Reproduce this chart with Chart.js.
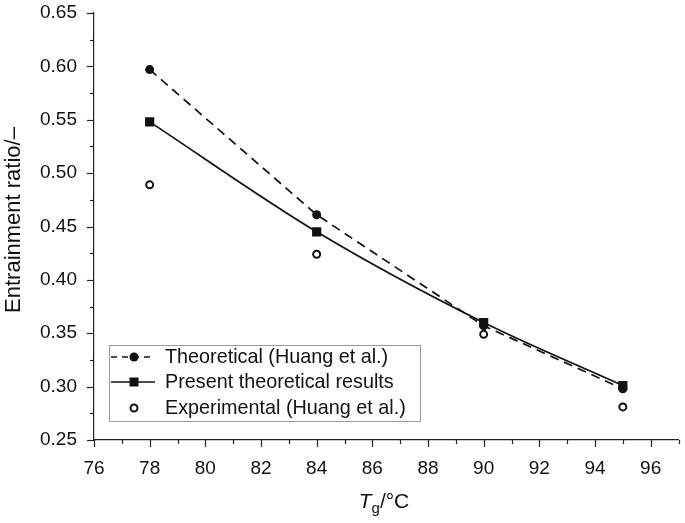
<!DOCTYPE html>
<html>
<head>
<meta charset="utf-8">
<script src="https://cdn.jsdelivr.net/npm/chart.js@4/dist/chart.umd.min.js"></script>
<style>
  html, body { margin: 0; padding: 0; background: #fff; }
  #wrap { width: 685px; height: 523px; position: relative; }
</style>
</head>
<body>
<div id="wrap"><canvas id="chartContainer"></canvas></div>
<script>
// values
var tempG = [78, 84, 90, 95];
var theoryHuang = [0.597, 0.461, 0.357, 0.298];
var presentTheory = [0.548, 0.445, 0.360, 0.301];
var experimental = [0.489, 0.424, 0.349, 0.281];

var xTicks = [76, 78, 80, 82, 84, 86, 88, 90, 92, 94, 96];
var yTicks = [0.25, 0.30, 0.35, 0.40, 0.45, 0.50, 0.55, 0.60, 0.65];

var seriesNames = ['Theoretical (Huang et al.)', 'Present theoretical results', 'Experimental (Huang et al.)'];

var FONT = '"Liberation Sans", Arial, sans-serif';

function toPoints(xs, ys){
    var pts = [];
    for(var i=0; i<xs.length; i++){
        pts.push({x: xs[i], y: ys[i]});
    }
    return pts;
}

function noPad(scale){
    scale.paddingTop = 0;
    scale.paddingBottom = 0;
    scale.paddingLeft = 0;
    scale.paddingRight = 0;
}

// minor/major ticks, axis titles, legend box
var extras = {
    id: 'extras',
    afterDraw: function(chart){
        var ctx = chart.ctx;
        var xs = chart.scales.x, ys = chart.scales.y;
        var area = chart.chartArea;
        ctx.save();
        ctx.strokeStyle = '#222';
        ctx.lineWidth = 1.2;
        // x ticks (down)
        for(var v=76; v<=97; v++){
            var px = Math.round(xs.getPixelForValue(v)) + 0.5;
            var len = (v % 2 == 0) ? 7 : 4;
            ctx.beginPath();
            ctx.moveTo(px, area.bottom);
            ctx.lineTo(px, area.bottom + len);
            ctx.stroke();
        }
        // y ticks (left)
        for(var k=0; k<=16; k++){
            var val = 0.25 + k*0.025;
            var py = Math.round(ys.getPixelForValue(val)) + 0.5;
            var l = (k % 2 == 0) ? 7 : 4;
            ctx.beginPath();
            ctx.moveTo(area.left, py);
            ctx.lineTo(area.left - l, py);
            ctx.stroke();
        }

        // axis titles
        ctx.fillStyle = '#111';
        ctx.save();
        ctx.translate(14, 220);
        ctx.rotate(-Math.PI/2);
        ctx.font = '22px ' + FONT;
        ctx.textAlign = 'center';
        ctx.textBaseline = 'middle';
        ctx.fillText('Entrainment ratio/\u2013', 0, 0);
        ctx.restore();

        ctx.textBaseline = 'alphabetic';
        ctx.textAlign = 'left';
        var cx = 384;
        var base = 508;
        ctx.font = 'italic 21px ' + FONT;
        var wT = ctx.measureText('T').width;
        ctx.font = '15px ' + FONT;
        var wg = ctx.measureText('g').width;
        ctx.font = '21px ' + FONT;
        var wRest = ctx.measureText('/\u00B0C').width;
        var x0 = cx - (wT + wg + wRest)/2;
        ctx.font = 'italic 21px ' + FONT;
        ctx.fillText('T', x0, base);
        ctx.font = '15px ' + FONT;
        ctx.fillText('g', x0 + wT, base + 5);
        ctx.font = '21px ' + FONT;
        ctx.fillText('/\u00B0C', x0 + wT + wg, base);

        // legend
        var lx = 109, ly = 345, lw = 311, lh = 76;
        ctx.strokeStyle = '#9a9a9a';
        ctx.lineWidth = 1;
        ctx.fillStyle = '#fff';
        ctx.fillRect(lx, ly, lw, lh);
        ctx.strokeRect(lx + 0.5, ly + 0.5, lw, lh);
        var rows = [357, 382, 408];
        ctx.font = '19.8px ' + FONT;
        ctx.textBaseline = 'middle';
        for(var r=0; r<3; r++){
            var yy = rows[r];
            ctx.strokeStyle = '#111';
            ctx.fillStyle = '#111';
            ctx.lineWidth = 1.6;
            if(r == 0){
                ctx.setLineDash([6, 5]);
                ctx.beginPath(); ctx.moveTo(111, yy); ctx.lineTo(155, yy); ctx.stroke();
                ctx.setLineDash([]);
                ctx.beginPath(); ctx.arc(134, yy, 4.5, 0, Math.PI*2); ctx.fill();
            } else if(r == 1){
                ctx.beginPath(); ctx.moveTo(111, yy); ctx.lineTo(155, yy); ctx.stroke();
                ctx.fillRect(129.5, yy - 4.5, 9, 9);
            } else {
                ctx.fillStyle = '#fff';
                ctx.lineWidth = 2;
                ctx.beginPath(); ctx.arc(134, yy, 3.5, 0, Math.PI*2); ctx.fill(); ctx.stroke();
            }
            ctx.fillStyle = '#111';
            ctx.fillText(seriesNames[r], 165, yy + 1);
        }
        ctx.restore();
    }
};

var myChart = new Chart('chartContainer', {
    type: 'scatter',
    data: {
        datasets: [{
            label: seriesNames[0],
            data: toPoints(tempG, theoryHuang),
            showLine: true,
            borderColor: '#111',
            borderWidth: 1.7,
            borderDash: [9, 6],
            pointStyle: 'circle',
            pointRadius: 4.5,
            pointBackgroundColor: '#111',
            pointBorderWidth: 0
        }, {
            label: seriesNames[1],
            data: toPoints(tempG, presentTheory),
            showLine: true,
            borderColor: '#111',
            borderWidth: 1.7,
            cubicInterpolationMode: 'monotone',
            pointStyle: 'rect',
            pointRadius: 6.5,
            pointBackgroundColor: '#111',
            pointBorderWidth: 0
        }, {
            label: seriesNames[2],
            data: toPoints(tempG, experimental),
            showLine: false,
            pointStyle: 'circle',
            pointRadius: 3.5,
            pointBackgroundColor: '#fff',
            pointBorderColor: '#111',
            pointBorderWidth: 2
        }]
    },
    options: {
        responsive: true,
        maintainAspectRatio: false,
        animation: false,
        layout: { padding: { top: 13, right: 3, left: 0, bottom: 0 } },
        plugins: {
            legend: { display: false },
            tooltip: { enabled: false }
        },
        scales: {
            x: {
                type: 'linear',
                min: 76,
                max: 97,
                afterBuildTicks: function(scale){
                    scale.ticks = xTicks.map(function(v){ return {value: v}; });
                },
                afterFit: function(scale){ scale.height = 83; noPad(scale); },
                grid: { display: false, drawTicks: false },
                border: { display: true, color: '#222', width: 1.2 },
                ticks: {
                    padding: 17,
                    color: '#111',
                    font: { family: FONT, size: 19 },
                    callback: function(v){ return String(v); }
                }
            },
            y: {
                type: 'linear',
                min: 0.25,
                max: 0.65,
                afterBuildTicks: function(scale){
                    scale.ticks = yTicks.map(function(v){ return {value: v}; });
                },
                afterFit: function(scale){ scale.width = 94; noPad(scale); },
                grid: { display: false, drawTicks: false },
                border: { display: true, color: '#222', width: 1.2 },
                ticks: {
                    padding: 17,
                    color: '#111',
                    font: { family: FONT, size: 19 },
                    callback: function(v){ return Number(v).toFixed(2); }
                }
            }
        }
    },
    plugins: [extras]
});
</script>
</body>
</html>
